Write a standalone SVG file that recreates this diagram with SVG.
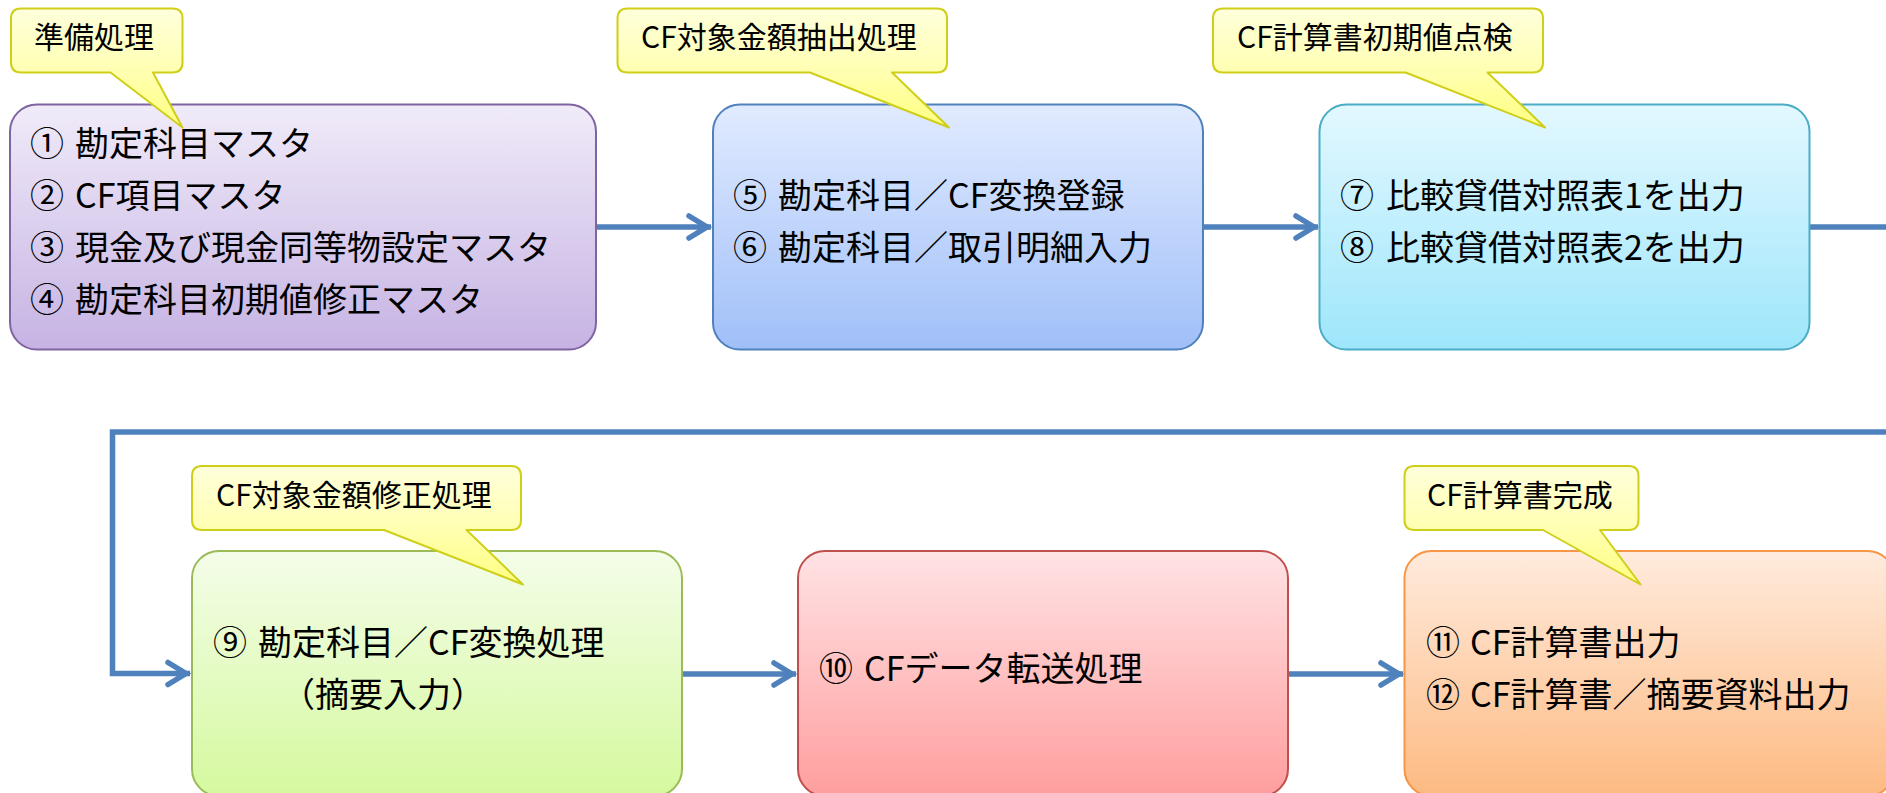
<svg xmlns="http://www.w3.org/2000/svg" width="1886" height="793" viewBox="0 0 1886 793">
<style>
  text { font-family: "Noto Sans CJK JP", "Noto Sans", sans-serif; fill: #000; }
  .t { font-size: 34px; }
  .c { font-size: 30px; }
  .box { stroke-width: 2; }
  .callout { fill: url(#gY); stroke: #CFCF1A; stroke-width: 2; stroke-linejoin: round; }
  .conn { fill: none; stroke: #4F81BD; stroke-width: 5.5; stroke-linejoin: miter; }
</style>
<defs>
  <linearGradient id="gPurple" x1="0" y1="0" x2="0" y2="1"><stop offset="0" stop-color="#F0EBF9"/><stop offset="1" stop-color="#C6B3E3"/></linearGradient>
  <linearGradient id="gBlue" x1="0" y1="0" x2="0" y2="1"><stop offset="0" stop-color="#E1EBFF"/><stop offset="1" stop-color="#A0BFF8"/></linearGradient>
  <linearGradient id="gCyan" x1="0" y1="0" x2="0" y2="1"><stop offset="0" stop-color="#E3F8FF"/><stop offset="1" stop-color="#9EE6FB"/></linearGradient>
  <linearGradient id="gGreen" x1="0" y1="0" x2="0" y2="1"><stop offset="0" stop-color="#F4FDE9"/><stop offset="1" stop-color="#D5F99E"/></linearGradient>
  <linearGradient id="gRed" x1="0" y1="0" x2="0" y2="1"><stop offset="0" stop-color="#FFE3E5"/><stop offset="1" stop-color="#FF9E9E"/></linearGradient>
  <linearGradient id="gOrange" x1="0" y1="0" x2="0" y2="1"><stop offset="0" stop-color="#FFEBDD"/><stop offset="1" stop-color="#FDBA82"/></linearGradient>
  <linearGradient id="gY" x1="0" y1="0" x2="0" y2="1"><stop offset="0" stop-color="#FFFFDC"/><stop offset="0.55" stop-color="#FFFFB0"/><stop offset="1" stop-color="#FFFF80"/></linearGradient>
  <marker id="arrow" markerUnits="userSpaceOnUse" markerWidth="40" markerHeight="40" viewBox="-30 -20 40 40" refX="0" refY="0" orient="auto" overflow="visible">
    <path d="M -22 -11 L -4 0 L -22 11" fill="none" stroke="#4F81BD" stroke-width="5.5" stroke-linecap="round" stroke-linejoin="miter"/>
  </marker>
</defs>
<rect width="1886" height="793" fill="#FFFFFF"/>

<g id="connectors">
  <path class="conn" d="M 596 227 H 711" marker-end="url(#arrow)"/>
  <path class="conn" d="M 1203 227 H 1318" marker-end="url(#arrow)"/>
  <path class="conn" d="M 1810 227 H 1905 V 432 H 112.5 V 673.5 H 190" marker-end="url(#arrow)"/>
  <path class="conn" d="M 682 674 H 796" marker-end="url(#arrow)"/>
  <path class="conn" d="M 1288 674 H 1403" marker-end="url(#arrow)"/>
</g>

<g id="node1">
  <rect class="box" x="10" y="104.5" width="586" height="245" rx="27" fill="url(#gPurple)" stroke="#8064A2"/>
  <text class="t"><tspan x="30" y="156">①</tspan><tspan x="75" y="156">勘定科目マスタ</tspan></text>
  <text class="t"><tspan x="30" y="208">②</tspan><tspan x="75" y="208">CF項目マスタ</tspan></text>
  <text class="t"><tspan x="30" y="260">③</tspan><tspan x="75" y="260">現金及び現金同等物設定マスタ</tspan></text>
  <text class="t"><tspan x="30" y="312">④</tspan><tspan x="75" y="312">勘定科目初期値修正マスタ</tspan></text>
</g>
<g id="node2">
  <rect class="box" x="713" y="104.5" width="490" height="245" rx="27" fill="url(#gBlue)" stroke="#4F81BD"/>
  <text class="t"><tspan x="733" y="208">⑤</tspan><tspan x="778" y="208">勘定科目／CF変換登録</tspan></text>
  <text class="t"><tspan x="733" y="260">⑥</tspan><tspan x="778" y="260">勘定科目／取引明細入力</tspan></text>
</g>
<g id="node3">
  <rect class="box" x="1319.5" y="104.5" width="490" height="245" rx="27" fill="url(#gCyan)" stroke="#4BACC6"/>
  <text class="t"><tspan x="1340" y="208">⑦</tspan><tspan x="1386" y="208">比較貸借対照表1を出力</tspan></text>
  <text class="t"><tspan x="1340" y="260">⑧</tspan><tspan x="1386" y="260">比較貸借対照表2を出力</tspan></text>
</g>
<g id="node4">
  <rect class="box" x="192" y="551" width="490" height="245" rx="27" fill="url(#gGreen)" stroke="#9BBB59"/>
  <text class="t"><tspan x="213" y="655">⑨</tspan><tspan x="258" y="655">勘定科目／CF変換処理</tspan></text>
  <text class="t" x="281" y="707">（摘要入力）</text>
</g>
<g id="node5">
  <rect class="box" x="798" y="551" width="490" height="245" rx="27" fill="url(#gRed)" stroke="#C0504D"/>
  <text class="t"><tspan x="819" y="681">⑩</tspan><tspan x="864" y="681">CFデータ転送処理</tspan></text>
</g>
<g id="node6">
  <rect class="box" x="1404.5" y="551" width="490" height="245" rx="27" fill="url(#gOrange)" stroke="#F79646"/>
  <text class="t"><tspan x="1426" y="655">⑪</tspan><tspan x="1470" y="655">CF計算書出力</tspan></text>
  <text class="t"><tspan x="1426" y="707">⑫</tspan><tspan x="1470" y="707">CF計算書／摘要資料出力</tspan></text>
</g>

<g id="callout1">
  <path class="callout" d="M 21 8.5 H 172.5 Q 182.5 8.5 182.5 18.5 V 62.5 Q 182.5 72.5 172.5 72.5 H 153 L 182.5 127.5 L 110.5 72.5 H 21 Q 11 72.5 11 62.5 V 18.5 Q 11 8.5 21 8.5 Z"/>
  <text class="c" x="34" y="48">準備処理</text>
</g>
<g id="callout2">
  <path class="callout" d="M 627.5 8.5 H 937 Q 947 8.5 947 18.5 V 62.5 Q 947 72.5 937 72.5 H 892 L 949 127.5 L 810 72.5 H 627.5 Q 617.5 72.5 617.5 62.5 V 18.5 Q 617.5 8.5 627.5 8.5 Z"/>
  <text class="c" x="641" y="48">CF対象金額抽出処理</text>
</g>
<g id="callout3">
  <path class="callout" d="M 1223 8.5 H 1533 Q 1543 8.5 1543 18.5 V 62.5 Q 1543 72.5 1533 72.5 H 1487.5 L 1545 127.5 L 1405.5 72.5 H 1223 Q 1213 72.5 1213 62.5 V 18.5 Q 1213 8.5 1223 8.5 Z"/>
  <text class="c" x="1237" y="48">CF計算書初期値点検</text>
</g>
<g id="callout4">
  <path class="callout" d="M 202 466 H 511 Q 521 466 521 476 V 520 Q 521 530 511 530 H 466.5 L 523 584.5 L 384 530 H 202 Q 192 530 192 520 V 476 Q 192 466 202 466 Z"/>
  <text class="c" x="216" y="505.5">CF対象金額修正処理</text>
</g>
<g id="callout6">
  <path class="callout" d="M 1414.5 466 H 1628.5 Q 1638.5 466 1638.5 476 V 520 Q 1638.5 530 1628.5 530 H 1600 L 1640.5 584.5 L 1543 530 H 1414.5 Q 1404.5 530 1404.5 520 V 476 Q 1404.5 466 1414.5 466 Z"/>
  <text class="c" x="1427" y="505.5">CF計算書完成</text>
</g>
</svg>
